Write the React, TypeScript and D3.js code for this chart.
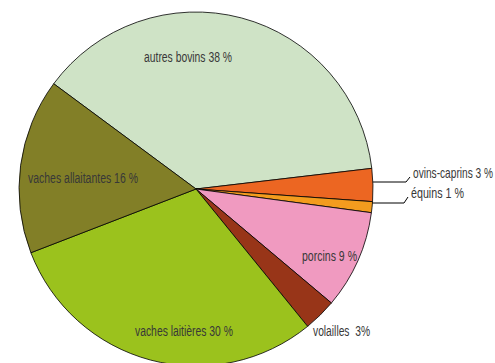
import React, { useLayoutEffect, useRef, useState } from "react";
import * as d3 from "d3";

const categories = [
  "autres bovins",
  "ovins-caprins",
  "équins",
  "porcins",
  "volailles",
  "vaches laitières",
  "vaches allaitantes",
];
const values = [38, 3, 1, 9, 3, 30, 16];
const labels = [
  "autres bovins 38 %",
  "ovins-caprins 3 %",
  "équins 1 %",
  "porcins 9 %",
  "volailles  3%",
  "vaches laitières 30 %",
  "vaches allaitantes 16 %",
];
const colors = ["#cfe3c6", "#ec6622", "#f39c1e", "#f09ac0", "#983518", "#9bc21d", "#827f27"];

// label layout: left x / baseline offsets relative to pie centre, text width, optional leader line y offset
const labelLayout = [
  { dx: -52, dy: -127, w: 88, leader: null },
  { dx: 217, dy: -11, w: 80, leader: -7 },
  { dx: 215, dy: 9, w: 53, leader: 14 },
  { dx: 106, dy: 72, w: 55, leader: null },
  { dx: 117, dy: 147, w: 57, leader: null },
  { dx: -61, dy: 147, w: 98, leader: null },
  { dx: -168, dy: -6, w: 110, leader: null },
];

const W = 495;
const H = 363;
const CX = 196;
const CY = 189;
const R = 177;
const START = (-53.5 * Math.PI) / 180;

function Label({ x, y, w, text }: { x: number; y: number; w: number; text: string }) {
  const ref = useRef<SVGTextElement>(null);
  const [s, setS] = useState(0.78);
  useLayoutEffect(() => {
    if (ref.current) {
      const len = ref.current.getComputedTextLength();
      if (len > 0) setS(w / len);
    }
  }, [w, text]);
  return (
    <g transform={`translate(${x},${y}) scale(${s},1)`}>
      <text
        ref={ref}
        x={0}
        y={0}
        fontFamily="'Liberation Sans', Arial, sans-serif"
        fontSize={15}
        fill="#383838"
        style={{ whiteSpace: "pre" }}
      >
        {text}
      </text>
    </g>
  );
}

export default function App() {
  const pie = d3
    .pie<number>()
    .sort(null)
    .value((d) => d)
    .startAngle(START)
    .endAngle(START + 2 * Math.PI);
  const arcs = pie(values);
  const arc = d3.arc<d3.PieArcDatum<number>>().innerRadius(0).outerRadius(R);

  return (
    <svg
      width={W}
      height={H}
      style={{ position: "absolute", left: 0, top: 0, display: "block", background: "#fff" }}
    >
      <g transform={`translate(${CX},${CY})`}>
        {arcs.map((a, i) => (
          <path key={categories[i]} d={arc(a) || ""} fill={colors[i]} stroke="#000" strokeWidth={0.8} strokeLinejoin="round" />
        ))}
        {labelLayout.map((l, i) => {
          if (l.leader === null) return null;
          const ly = l.leader;
          const x0 = Math.sqrt(R * R - ly * ly);
          const x1 = l.dx - 7;
          const x2 = l.dx - 3;
          return (
            <polyline
              key={"leader" + i}
              points={`${x0},${ly} ${x1},${ly} ${x2},${l.dy - 1}`}
              fill="none"
              stroke="#000"
              strokeWidth={1}
            />
          );
        })}
        {labelLayout.map((l, i) => (
          <Label key={"lbl" + i} x={l.dx} y={l.dy} w={l.w} text={labels[i]} />
        ))}
      </g>
    </svg>
  );
}
